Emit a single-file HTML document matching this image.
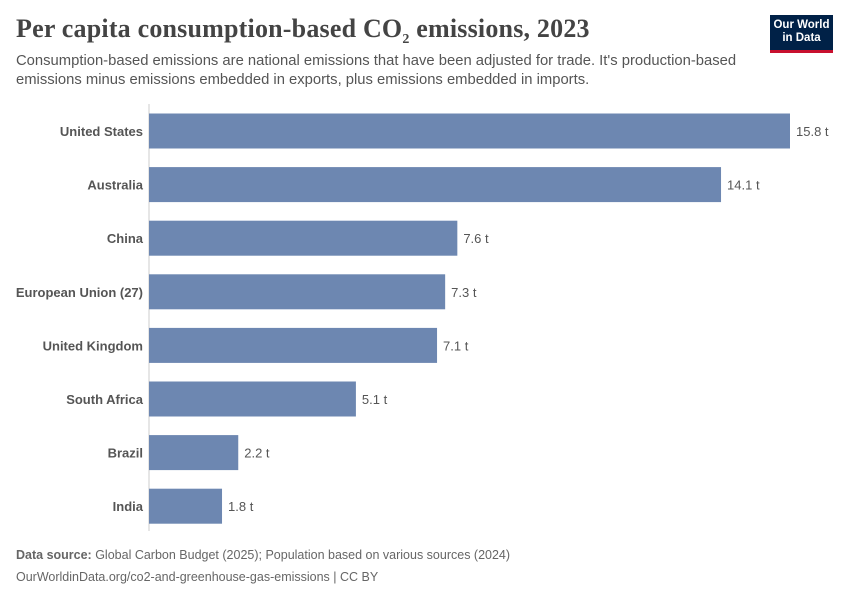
<!DOCTYPE html>
<html><head><meta charset="utf-8"><style>
body{margin:0;background:#fff;font-family:"Liberation Sans",sans-serif;}
#root{position:relative;width:850px;height:600px;overflow:hidden;}
.title{position:absolute;left:16px;top:14px;font-family:"Liberation Serif",serif;font-size:26px;font-weight:bold;color:#444;letter-spacing:0.2px;}
.sub{position:absolute;left:16px;top:52px;width:740px;font-size:14.8px;line-height:19px;color:#555;}
.logo{position:absolute;left:770px;top:15px;width:63px;background:#002147;border-bottom:3px solid #c8102e;color:#fff;font-size:11.5px;font-weight:bold;line-height:13px;text-align:center;padding-top:4px;box-sizing:content-box;height:31px;}
.foot{position:absolute;left:16px;font-size:12.5px;color:#666;}
</style></head><body><div id="root">
<div class="title">Per capita consumption-based CO<sub style="font-size:14px">2</sub> emissions, 2023</div>
<div class="sub">Consumption-based emissions are national emissions that have been adjusted for trade. It's production-based emissions minus emissions embedded in exports, plus emissions embedded in imports.</div>
<div class="logo">Our World<br>in Data</div>
<svg id="chart" width="850" height="600" style="position:absolute;left:0;top:0"></svg>
<div class="foot" style="top:548px"><b>Data source:</b> Global Carbon Budget (2025); Population based on various sources (2024)</div>
<div class="foot" style="top:570px">OurWorldinData.org/co2-and-greenhouse-gas-emissions | CC BY</div>
</div>
<script>
const categories=["United States","Australia","China","European Union (27)","United Kingdom","South Africa","Brazil","India"];
const values=[15.8,14.1,7.6,7.3,7.1,5.1,2.2,1.8];
const valueLabels=["15.8 t","14.1 t","7.6 t","7.3 t","7.1 t","5.1 t","2.2 t","1.8 t"];
const svg=document.getElementById('chart');const NS="http://www.w3.org/2000/svg";
const x0=149,xScale=v=>x0+v*(641/15.8);
const yCenter=i=>131+i*53.6,bh=35;
function mk(t,a){const e=document.createElementNS(NS,t);for(const k in a)e.setAttribute(k,a[k]);svg.appendChild(e);return e;}
const ax=mk('line',{x1:x0,x2:x0,y1:104,y2:531,stroke:'#ccc','stroke-width':1});


categories.forEach((c,i)=>{
 const y=yCenter(i);
 const r=mk('rect',{x:x0,y:y-bh/2,width:xScale(values[i])-x0,height:bh,fill:'#6d87b1'});
 
 
 const l=mk('text',{x:143,y:y+5,'text-anchor':'end','font-size':13,'font-weight':'bold',fill:'#555','font-family':'Liberation Sans'});l.textContent=c;
 
 
 const v=mk('text',{x:xScale(values[i])+6,y:y+5,'font-size':13,fill:'#555','font-family':'Liberation Sans'});v.textContent=valueLabels[i];
 
 
});
</script></body></html>
